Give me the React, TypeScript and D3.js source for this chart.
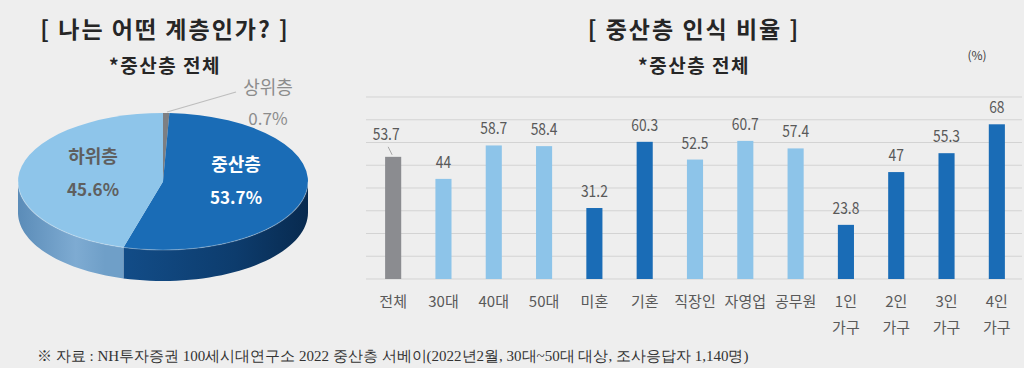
import { useMemo } from 'react';
import * as d3 from 'd3';

// data
const PIE_LABELS = ['상위층', '중산층', '하위층'];
const PIE_VALUES = [0.7, 53.7, 45.6];

const CATEGORIES = ['전체', '30대', '40대', '50대', '미혼', '기혼', '직장인', '자영업', '공무원', '1인 가구', '2인 가구', '3인 가구', '4인 가구'];
const VALUES = [53.7, 44, 58.7, 58.4, 31.2, 60.3, 52.5, 60.7, 57.4, 23.8, 47, 55.3, 68];
const GROUPS = ['total', 'age', 'age', 'age', 'marital', 'marital', 'job', 'job', 'job', 'house', 'house', 'house', 'house'];
const Y_TICKS = [0, 10, 20, 30, 40, 50, 60, 70, 80];

const W = 1024;
const H = 368;
const FONT = '"Noto Sans CJK KR", "Noto Sans", sans-serif';

const groupColor: Record<string, string> = {
  total: '#8b8c90',
  age: '#8dc4e9',
  marital: '#1a6cb6',
  job: '#8dc4e9',
  house: '#1a6cb6',
};

const topColors = ['#7d7f83', '#1a6cb6', '#8ec5ea'];

function Pie3D() {
  const cx = 163, cy = 181.5, rx = 145, ry = 68.5, depth = 31;

  const arcs = useMemo(() => d3.pie<number>().sort(null).value(d => d)(PIE_VALUES), []);
  const arc = d3.arc<d3.PieArcDatum<number>>().innerRadius(0).outerRadius(rx);

  // side walls: only the front half (pi/2 .. 3pi/2) is visible
  const sides = arcs.map((a, i) => {
    const s = Math.max(a.startAngle, Math.PI / 2);
    const e = Math.min(a.endAngle, (3 * Math.PI) / 2);
    if (s >= e) return null;
    const steps = d3.range(0, 41).map(k => s + ((e - s) * k) / 40);
    const top = steps.map(t => [cx + rx * Math.sin(t), cy - ry * Math.cos(t)] as [number, number]);
    const bot = steps.slice().reverse().map(t => [cx + rx * Math.sin(t), cy - ry * Math.cos(t) + depth] as [number, number]);
    const d = d3.line()([...top, ...bot]) + 'Z';
    return { d, i };
  });

  return (
    <g>
      <defs>
        <linearGradient id="sideDark" gradientUnits="userSpaceOnUse" x1={cx - rx} x2={cx + rx} y1={0} y2={0}>
          <stop offset="0.3" stopColor="#134f8c" />
          <stop offset="0.75" stopColor="#0d3c6d" />
          <stop offset="1" stopColor="#082a4f" />
        </linearGradient>
        <linearGradient id="sideLight" gradientUnits="userSpaceOnUse" x1={cx - rx} x2={cx + rx} y1={0} y2={0}>
          <stop offset="0" stopColor="#5b8cb8" />
          <stop offset="0.2" stopColor="#7eabd2" />
          <stop offset="0.3" stopColor="#6f9fc8" />
        </linearGradient>
      </defs>
      {sides.map(sd => sd && (
        <path key={sd.i} d={sd.d}
          fill={sd.i === 1 ? 'url(#sideDark)' : sd.i === 2 ? 'url(#sideLight)' : '#5d5f63'} />
      ))}
      <g transform={`translate(${cx},${cy}) scale(1,${ry / rx})`}>
        {arcs.map((a, i) => (
          <path key={i} d={arc(a) || ''} fill={topColors[i]} />
        ))}
      </g>
      {/* faint rim highlight */}
      <path
        d={d3.line()(d3.range(0, 61).map(k => {
          const t = Math.PI / 2 + (Math.PI * k) / 60;
          return [cx + rx * Math.sin(t), cy - ry * Math.cos(t)] as [number, number];
        })) || ''}
        fill="none" stroke="#ffffff" strokeOpacity={0.25} strokeWidth={1.2} />

      {/* labels */}
      <line x1={167} y1={112} x2={236} y2={92} stroke="#bdbdbd" strokeWidth={1.2} />
      <text x={268} y={94} textAnchor="middle" fontSize={18} fill="#8c8c8c" fontFamily={FONT}>{PIE_LABELS[0]}</text>
      <text x={268} y={125} textAnchor="middle" fontSize={17} fill="#8c8c8c" fontFamily={FONT}>{PIE_VALUES[0]}%</text>
      <text x={236} y={171} textAnchor="middle" fontSize={18} fontWeight={700} fill="#ffffff" fontFamily={FONT}>{PIE_LABELS[1]}</text>
      <text x={236} y={204} textAnchor="middle" fontSize={17} fontWeight={700} fill="#ffffff" fontFamily={FONT}>{PIE_VALUES[1]}%</text>
      <text x={93} y={163} textAnchor="middle" fontSize={18} fontWeight={700} fill="#5f5f5f" fontFamily={FONT}>{PIE_LABELS[2]}</text>
      <text x={93} y={196} textAnchor="middle" fontSize={17} fontWeight={700} fill="#5f5f5f" fontFamily={FONT}>{PIE_VALUES[2]}%</text>
    </g>
  );
}

// narrow-looking value label (the source font is condensed)
function NumLabel({ x, y, v }: { x: number; y: number; v: number }) {
  return (
    <text transform={`translate(${x},${y}) scale(0.84,1)`} textAnchor="middle" fontSize={16.5} fill="#595959">{v}</text>
  );
}

function Bars() {
  const x = d3.scaleBand<string>().domain(CATEGORIES).range([368, 1022]).paddingInner(0.68).paddingOuter(0.34);
  const y = d3.scaleLinear().domain([0, 80]).range([279, 97]);
  const bw = x.bandwidth();

  return (
    <g fontFamily={FONT}>
      {Y_TICKS.map(t => (
        <line key={t} x1={366} x2={1022} y1={y(t)} y2={y(t)} stroke="#d3d3d3" strokeWidth={1} />
      ))}
      {CATEGORIES.map((c, i) => {
        const v = VALUES[i];
        const bx = x(c)!;
        const cxm = bx + bw / 2;
        const isTotal = GROUPS[i] === 'total';
        return (
          <g key={c}>
            <rect x={bx} y={y(v)} width={bw} height={y(0) - y(v)} fill={groupColor[GROUPS[i]]} />
            {isTotal ? (
              <>
                <line x1={cxm - 5} y1={y(v) - 10} x2={cxm - 1} y2={y(v) - 2} stroke="#a6a6a6" strokeWidth={1} />
                <NumLabel x={cxm - 7} y={y(v) - 17} v={v} />
              </>
            ) : (
              <NumLabel x={cxm} y={y(v) - 11} v={v} />
            )}
            {c.split(' ').map((part, k) => (
              <text key={k} x={cxm} y={307 + k * 26} textAnchor="middle" fontSize={15} fill="#595959">{part}</text>
            ))}
          </g>
        );
      })}
    </g>
  );
}

export default function App() {
  return (
    <svg width={W} height={H} style={{ position: 'fixed', left: 0, top: 0, background: '#eeeeee' }}>
      <rect width={W} height={H} fill="#eeeeee" />
      <g fontFamily={FONT} fill="#262626" textAnchor="middle">
        <text x={165} y={38} fontSize={23} fontWeight={700} letterSpacing={2}>[ 나는 어떤 계층인가? ]</text>
        <text x={165} y={73} fontSize={19} fontWeight={700} letterSpacing={1.5}>*중산층 전체</text>
        <text x={694} y={38} fontSize={23} fontWeight={700} letterSpacing={2}>[ 중산층 인식 비율 ]</text>
        <text x={694} y={73} fontSize={19} fontWeight={700} letterSpacing={1.5}>*중산층 전체</text>
        <text x={977} y={60} fontSize={12} fill="#404040" fontWeight={400}>(%)</text>
      </g>
      <Pie3D />
      <Bars />
      <text x={37} y={361} fontSize={15} fill="#333333" fontFamily={'"Liberation Serif", serif'}>
        ※ 자료 : NH투자증권 100세시대연구소 2022 중산층 서베이(2022년2월, 30대~50대 대상, 조사응답자 1,140명)
      </text>
    </svg>
  );
}
